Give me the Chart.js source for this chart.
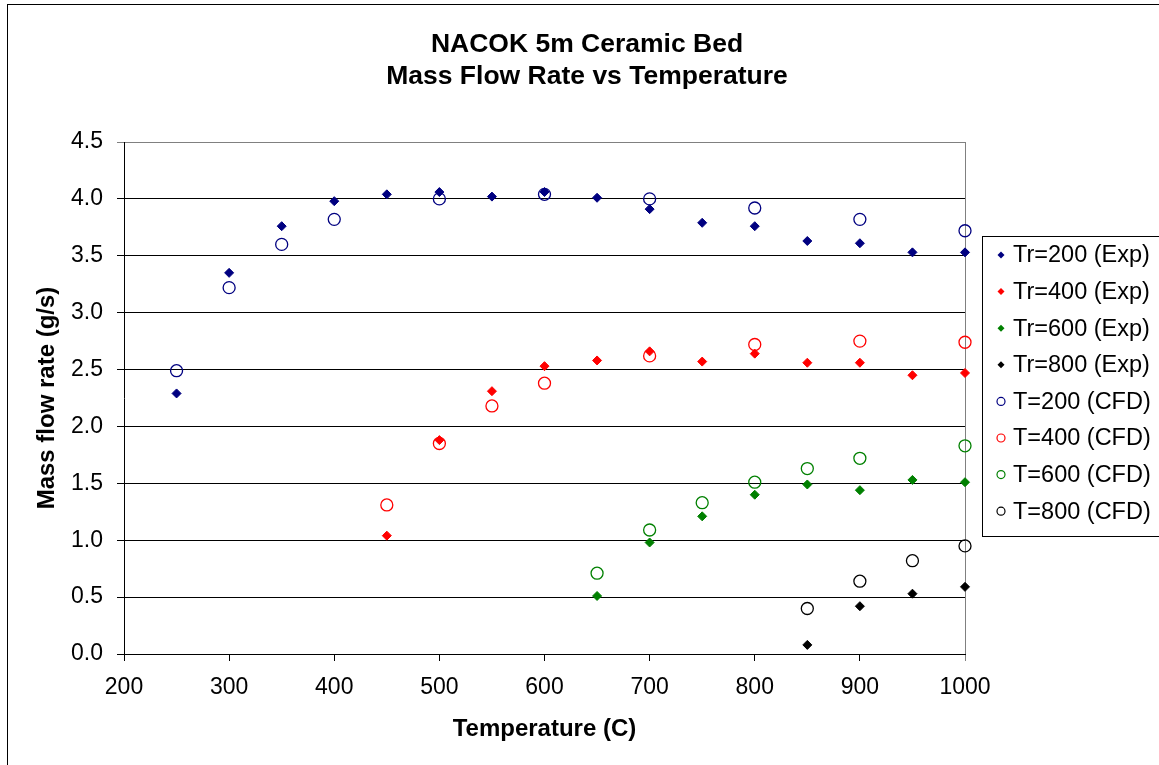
<!DOCTYPE html>
<html>
<head>
<meta charset="utf-8">
<script src="https://cdn.jsdelivr.net/npm/chart.js@4/dist/chart.umd.min.js"></script>
<style>
  html, body { margin: 0; padding: 0; background: #fff; }
  #wrap { width: 1159px; height: 765px; position: relative; }
</style>
</head>
<body>
<div id="wrap"><canvas id="c" width="1159" height="765"></canvas></div>
<script>
// ---- Data ----
const titleLines = ["NACOK 5m Ceramic Bed", "Mass Flow Rate vs Temperature"];
const xTitle = "Temperature (C)";
const yTitle = "Mass flow rate (g/s)";

const tempExp200 = [250, 300, 350, 400, 450, 500, 550, 600, 650, 700, 750, 800, 850, 900, 950, 1000];
const flowExp200 = [2.29, 3.35, 3.76, 3.98, 4.04, 4.06, 4.02, 4.06, 4.01, 3.91, 3.79, 3.76, 3.63, 3.61, 3.53, 3.53];

const tempExp400 = [450, 500, 550, 600, 650, 700, 750, 800, 850, 900, 950, 1000];
const flowExp400 = [1.04, 1.88, 2.31, 2.53, 2.58, 2.66, 2.57, 2.64, 2.56, 2.56, 2.45, 2.47];

const tempExp600 = [650, 700, 750, 800, 850, 900, 950, 1000];
const flowExp600 = [0.51, 0.98, 1.21, 1.40, 1.49, 1.44, 1.53, 1.51];

const tempExp800 = [850, 900, 950, 1000];
const flowExp800 = [0.08, 0.42, 0.53, 0.59];

const tempCfd200 = [250, 300, 350, 400, 500, 600, 700, 800, 900, 1000];
const flowCfd200 = [2.49, 3.22, 3.60, 3.82, 4.00, 4.04, 4.00, 3.92, 3.82, 3.72];

const tempCfd400 = [450, 500, 550, 600, 700, 800, 900, 1000];
const flowCfd400 = [1.31, 1.85, 2.18, 2.38, 2.62, 2.72, 2.75, 2.74];

const tempCfd600 = [650, 700, 750, 800, 850, 900, 1000];
const flowCfd600 = [0.71, 1.09, 1.33, 1.51, 1.63, 1.72, 1.83];

const tempCfd800 = [850, 900, 950, 1000];
const flowCfd800 = [0.40, 0.64, 0.82, 0.95];

const seriesLabels = ["Tr=200 (Exp)", "Tr=400 (Exp)", "Tr=600 (Exp)", "Tr=800 (Exp)",
                      "T=200 (CFD)", "T=400 (CFD)", "T=600 (CFD)", "T=800 (CFD)"];
const seriesColors = ["#000080", "#FF0000", "#008000", "#000000",
                      "#000080", "#FF0000", "#008000", "#000000"];

const xMin = 200, xMax = 1000, xStep = 100;
const yMin = 0, yMax = 4.5, yStep = 0.5;

// ---- Build ----
const FONT = "'Liberation Sans', Arial, Helvetica, sans-serif";
function pts(xs, ys) { return xs.map((x, i) => ({ x: x, y: ys[i] })); }

const expSets = [[tempExp200, flowExp200], [tempExp400, flowExp400], [tempExp600, flowExp600], [tempExp800, flowExp800]];
const cfdSets = [[tempCfd200, flowCfd200], [tempCfd400, flowCfd400], [tempCfd600, flowCfd600], [tempCfd800, flowCfd800]];

const datasets = [];
expSets.forEach((s, i) => {
  datasets.push({
    label: seriesLabels[i],
    data: pts(s[0], s[1]),
    pointStyle: 'rectRot',
    pointRadius: 4.5,
    pointHoverRadius: 4.5,
    backgroundColor: seriesColors[i],
    borderColor: seriesColors[i],
    borderWidth: 1,
    showLine: false,
    clip: false,
    order: 1
  });
});
cfdSets.forEach((s, i) => {
  datasets.push({
    label: seriesLabels[i + 4],
    data: pts(s[0], s[1]),
    pointStyle: 'circle',
    pointRadius: 6,
    pointHoverRadius: 6,
    backgroundColor: 'rgba(0,0,0,0)',
    borderColor: seriesColors[i + 4],
    borderWidth: 1.3,
    showLine: false,
    clip: false,
    order: 0
  });
});

const framePlugin = {
  id: 'frame',
  beforeDraw(chart) {
    const ctx = chart.ctx;
    ctx.save();
    ctx.fillStyle = '#fff';
    ctx.fillRect(0, 0, chart.width, chart.height);
    ctx.strokeStyle = '#000';
    ctx.lineWidth = 1;
    ctx.strokeRect(7.5, 4.5, chart.width + 20, chart.height + 20);
    ctx.restore();
  },
  beforeDatasetsDraw(chart) {
    const ctx = chart.ctx;
    const a = chart.chartArea;
    ctx.save();
    ctx.strokeStyle = '#808080';
    ctx.lineWidth = 1;
    ctx.beginPath();
    ctx.moveTo(Math.round(a.right) + 0.5, a.top);
    ctx.lineTo(Math.round(a.right) + 0.5, a.bottom);
    ctx.stroke();
    ctx.restore();
  },
  afterDraw(chart) {
    const ctx = chart.ctx;
    ctx.save();
    // title
    ctx.fillStyle = '#000';
    ctx.font = "bold 26.5px " + FONT;
    ctx.textAlign = 'center';
    ctx.textBaseline = 'middle';
    ctx.fillText(titleLines[0], 587, 45);
    ctx.fillText(titleLines[1], 587, 77);
    // legend
    const lx = 982.5, ly = 236.5;
    ctx.strokeStyle = '#000';
    ctx.lineWidth = 1;
    ctx.strokeRect(lx, ly, 300, 300);
    ctx.font = "23.5px " + FONT;
    ctx.textAlign = 'left';
    chart.data.datasets.forEach((ds, i) => {
      const cy = 255 + i * 36.6;
      const cx = 1001;
      if (ds.pointStyle === 'rectRot') {
        ctx.fillStyle = ds.backgroundColor;
        ctx.beginPath();
        ctx.moveTo(cx, cy - 3.5);
        ctx.lineTo(cx + 3.5, cy);
        ctx.lineTo(cx, cy + 3.5);
        ctx.lineTo(cx - 3.5, cy);
        ctx.closePath();
        ctx.fill();
      } else {
        ctx.strokeStyle = ds.borderColor;
        ctx.lineWidth = 1.2;
        ctx.beginPath();
        ctx.arc(cx, cy, 4, 0, Math.PI * 2);
        ctx.stroke();
      }
      ctx.fillStyle = '#000';
      ctx.fillText(ds.label, 1013, cy + 1);
    });
    ctx.restore();
  }
};

new Chart(document.getElementById('c'), {
  type: 'scatter',
  data: { datasets: datasets },
  options: {
    responsive: false,
    animation: false,
    devicePixelRatio: 1,
    layout: { padding: { left: 0, top: 142, right: 194, bottom: 0 } },
    plugins: {
      legend: { display: false },
      title: { display: false },
      tooltip: { enabled: false }
    },
    scales: {
      x: {
        type: 'linear',
        min: xMin, max: xMax,
        afterFit(scale) { scale.height = 111; },
        ticks: {
          stepSize: xStep,
          color: '#000',
          font: { family: FONT, size: 23 },
          padding: 13,
          maxRotation: 0,
          callback: (v) => String(v)
        },
        grid: {
          drawOnChartArea: false,
          drawTicks: true,
          tickLength: 7,
          color: (c) => (c.tick && c.tick.value === xMax) ? '#808080' : '#000'
        },
        border: { display: true, color: '#000', width: 1 },
        title: {
          display: true,
          text: xTitle,
          color: '#000',
          font: { family: FONT, size: 24, weight: 'bold' },
          padding: { top: 0, bottom: 21 }
        }
      },
      y: {
        type: 'linear',
        min: yMin, max: yMax,
        afterFit(scale) { scale.width = 124; },
        ticks: {
          stepSize: yStep,
          color: '#000',
          font: { family: FONT, size: 23 },
          padding: 14,
          callback: (v) => Number(v).toFixed(1)
        },
        grid: {
          drawTicks: true,
          tickLength: 7,
          color: (c) => (c.tick && c.tick.value === yMax) ? '#808080' : '#000'
        },
        border: { display: true, color: '#000', width: 1 },
        title: {
          display: true,
          text: yTitle,
          color: '#000',
          font: { family: FONT, size: 24, weight: 'bold' },
          padding: { top: 33, bottom: 0 }
        }
      }
    }
  },
  plugins: [framePlugin]
});
</script>
</body>
</html>
